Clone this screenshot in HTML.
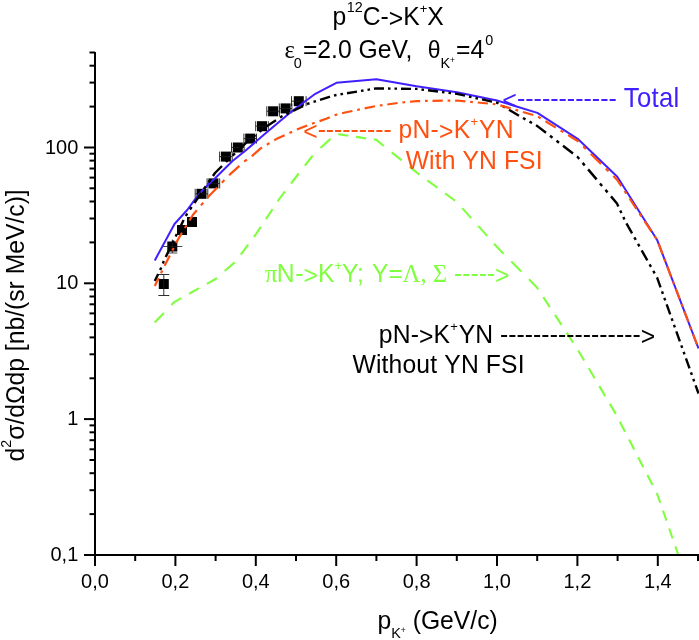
<!DOCTYPE html>
<html><head><meta charset="utf-8"><title>chart</title>
<style>html,body{margin:0;padding:0;background:#fff;}svg{display:block;will-change:transform;}text{font-family:"Liberation Sans",sans-serif;}.se{font-family:"Liberation Serif",serif;}</style>
</head><body>
<svg width="699" height="640" viewBox="0 0 699 640">
<rect width="699" height="640" fill="#fff"/>
<g fill="#000" stroke="#1a1a1a" stroke-width="0.9">
<rect x="158.8" y="279.0" width="10" height="10" stroke="none"/>
<path d="M163.8 274.5V295.5M158.3 274.5H169.3M158.3 295.5H169.3" fill="none"/>
<rect x="167.3" y="241.5" width="10" height="10" stroke="none"/>
<path d="M162.3 246.5H182.3M172.3 239.5V253.0M167.3 253.0H177.3" fill="none" stroke-width="0.8"/>
<rect x="177.0" y="225.0" width="10" height="10" stroke="none"/>
<rect x="187.0" y="217.0" width="10" height="10" stroke="none"/>
<rect x="196.5" y="188.8" width="10" height="10" stroke="none"/>
<path d="M195.2 188.8V198.8M207.8 188.8V198.8M195.2 193.8H207.8" fill="none" stroke-width="0.9"/>
<rect x="208.4" y="178.4" width="10" height="10" stroke="none"/>
<path d="M207.1 178.4V188.4M219.7 178.4V188.4M207.1 183.4H219.7" fill="none" stroke-width="0.9"/>
<rect x="220.9" y="151.6" width="10" height="10" stroke="none"/>
<path d="M219.6 151.6V161.6M232.2 151.6V161.6M219.6 156.6H232.2" fill="none" stroke-width="0.9"/>
<rect x="232.8" y="142.5" width="10" height="10" stroke="none"/>
<path d="M231.5 142.5V152.5M244.1 142.5V152.5M231.5 147.5H244.1" fill="none" stroke-width="0.9"/>
<rect x="245.2" y="133.6" width="10" height="10" stroke="none"/>
<path d="M243.9 133.6V143.6M256.5 133.6V143.6M243.9 138.6H256.5" fill="none" stroke-width="0.9"/>
<rect x="257.0" y="121.2" width="10" height="10" stroke="none"/>
<path d="M255.7 121.2V131.2M268.3 121.2V131.2M255.7 126.2H268.3" fill="none" stroke-width="0.9"/>
<rect x="268.1" y="106.3" width="10" height="10" stroke="none"/>
<path d="M266.8 106.3V116.3M279.4 106.3V116.3M266.8 111.3H279.4" fill="none" stroke-width="0.9"/>
<rect x="280.6" y="103.4" width="10" height="10" stroke="none"/>
<path d="M279.3 103.4V113.4M291.9 103.4V113.4M279.3 108.4H291.9" fill="none" stroke-width="0.9"/>
<rect x="293.8" y="96.2" width="10" height="10" stroke="none"/>
<path d="M291.5 96.2V106.2M306.1 96.2V106.2M291.5 101.2H306.1" fill="none" stroke-width="0.9"/>
</g>
<g fill="none" stroke-width="2" stroke-linejoin="round">
<path d="M154.70 322.40L163.88 312.90M171.41 305.10L174.60 301.80L181.30 298.07M189.10 293.74L199.10 288.18M206.90 283.84L215.60 279.00L216.90 277.87M224.70 271.08L234.70 262.37M240.76 254.70L248.19 244.70M253.99 236.90L255.40 235.00L260.76 226.90M265.93 219.10L272.55 209.10M277.71 201.30L279.50 198.60L285.08 191.30M291.03 183.50L296.00 177.00L298.73 173.50M304.82 165.70L312.20 156.25L312.75 155.70M320.50 147.94L330.20 139.10L330.50 138.91M338.30 134.15L345.00 135.20L348.30 135.70M356.10 136.87L366.10 138.37M373.90 139.54L376.30 139.90L383.90 146.03M391.70 152.32L401.70 160.38M409.50 166.67L416.60 172.40L419.50 174.54M427.30 180.28L437.30 187.64M445.10 193.39L455.10 200.75M462.26 208.10L471.20 218.10M478.18 225.90L487.12 235.90M494.10 243.70L497.50 247.50L503.62 253.70M511.33 261.50L521.20 271.50M528.90 279.30L537.00 287.50L538.18 289.30M543.29 297.10L549.84 307.10M554.96 314.90L561.51 324.90M566.62 332.70L573.17 342.70M578.21 350.50L584.14 360.50M588.76 368.30L594.69 378.30M599.31 386.10L605.24 396.10M609.86 403.90L615.79 413.90M619.86 421.70L625.01 431.70M629.02 439.50L634.17 449.50M638.19 457.30L643.34 467.30M647.36 475.10L652.51 485.10M656.52 492.90L657.40 494.60L660.28 502.90M662.99 510.70L666.46 520.70M669.17 528.50L672.64 538.50M675.35 546.30L678.20 554.50" stroke="#80ff40" stroke-width="2.1"/>
<polyline points="154.8,260.4 174.5,224.0 187.2,210.0 195.0,199.4 203.8,188.8 215.6,177.8 232.5,161.0 245.0,151.0 265.3,133.6 290.3,112.5 296.6,107.8 315.3,93.8 336.4,82.8 376.4,79.3 416.6,86.3 456.9,92.2 497.0,100.5 537.4,112.9 577.7,138.8 617.3,176.8 657.3,240.3 698.5,348.5" stroke="#4020ff"/>
<path d="M154.80 281.00L158.17 274.00M160.09 270.00L161.20 267.70L161.28 267.50M162.86 263.50L163.84 261.00M165.74 257.00L170.57 247.00M172.50 243.00L173.71 240.50M175.64 236.50L176.85 234.00M178.78 230.00L183.00 221.25L183.68 220.00M185.85 216.00L187.20 213.50M189.95 209.50L191.66 207.00M194.41 203.00L201.27 193.00M204.02 189.00L205.73 186.50M208.48 182.50L210.20 180.00M212.94 176.00L215.00 173.00L222.00 166.00M226.00 162.00L228.00 160.00L228.50 159.52M232.50 155.67L235.00 153.27M239.00 149.42L241.00 147.50L249.00 140.21M253.00 136.95L255.50 134.99M259.50 131.85L262.00 129.89M266.00 126.83L276.00 120.19M280.00 117.53L281.70 116.40L282.50 116.02M286.50 114.09L289.00 112.89M293.00 110.97L301.25 107.00L303.00 106.13M307.00 104.15L307.50 103.90L309.50 103.26M313.50 101.98L316.00 101.18M320.00 99.90L329.40 96.90L330.00 96.73M334.00 95.61L336.20 95.00L336.50 94.95M340.50 94.29L343.00 93.88M347.00 93.22L357.00 91.58M361.00 90.92L363.50 90.51M367.50 89.85L370.00 89.44M374.00 88.78L376.30 88.40L384.00 88.50M388.00 88.55L390.50 88.58M394.50 88.63L397.00 88.66M401.00 88.71L411.00 88.83M415.00 88.88L416.60 88.90L417.50 89.01M421.50 89.51L424.00 89.82M428.00 90.31L438.00 91.56M442.00 92.05L444.50 92.36M448.50 92.86L451.00 93.17M455.00 93.66L456.90 93.90L465.00 95.68M469.00 96.56L471.50 97.10M475.50 97.98L478.00 98.53M482.00 99.41L492.00 101.60M496.00 102.48L497.00 102.70L498.50 103.59M502.50 105.95L505.00 107.43M509.00 109.80L519.00 115.71M523.00 117.99L525.50 119.40M529.50 121.65L532.00 123.06M536.00 125.31L537.40 126.10L546.00 132.72M550.00 135.79L552.50 137.72M556.50 140.79L559.00 142.72M563.00 145.79L573.00 153.48M577.00 156.56L577.70 157.10L579.22 158.90M582.61 162.90L584.73 165.40M588.12 169.40L596.59 179.40M599.98 183.40L602.09 185.90M605.48 189.90L607.60 192.40M610.99 196.40L617.00 203.50L618.37 206.40M620.25 210.40L621.43 212.90M623.32 216.90L624.50 219.40M626.44 223.40L632.09 233.40M634.34 237.40L635.76 239.90M638.01 243.90L639.43 246.40M641.68 250.40L647.33 260.40M649.59 264.40L651.00 266.90M653.26 270.90L654.67 273.40M656.93 277.40L657.10 277.70L660.57 287.40M662.00 291.40L662.89 293.90M664.32 297.90L665.22 300.40M666.65 304.40L670.22 314.40M671.65 318.40L672.54 320.90M673.97 324.90L674.87 327.40M676.30 331.40L679.87 341.40M681.30 345.40L682.20 347.90M683.63 351.90L684.52 354.40M685.95 358.40L689.53 368.40M690.96 372.40L691.85 374.90M693.28 378.90L694.17 381.40M695.60 385.40L698.50 393.50" stroke="#000" stroke-width="2.4"/>
</g>
<path d="M154.80 286.00L158.68 278.00M161.01 273.20L162.32 270.50M164.65 265.70L166.10 262.70L169.85 255.40M172.32 250.60L173.71 247.90M176.18 243.10L178.75 238.10L181.98 232.80M184.90 228.00L186.54 225.30M189.47 220.50L193.00 214.70L196.84 210.20M200.94 205.40L203.24 202.70M207.34 197.90L208.75 196.25L215.60 189.20L217.16 187.60M221.83 182.80L224.45 180.10M229.12 175.30L230.00 174.40L239.40 165.94M244.20 161.62L245.00 160.90L246.90 159.56M251.70 156.17L252.50 155.60L260.60 148.40L262.00 147.57M266.80 144.72L269.50 143.11M274.30 140.26L276.25 139.10L284.60 135.24M289.40 133.03L292.10 131.78M296.90 129.58L307.20 125.42M312.00 123.73L314.70 122.78M319.50 121.11L326.25 118.75L329.80 117.31M334.60 115.35L336.20 114.70L337.30 114.42M342.10 113.22L345.00 112.50L352.40 110.96M357.20 109.97L359.90 109.41M364.70 108.41L375.00 106.27M379.80 105.51L382.50 105.14M387.30 104.47L397.60 103.03M402.40 102.47L405.10 102.21M409.90 101.75L416.60 101.10L420.20 101.05M425.00 100.97L427.70 100.93M432.50 100.86L442.80 100.71M447.60 100.64L450.30 100.60M455.10 100.53L456.90 100.50L465.40 101.33M470.20 101.79L472.90 102.06M477.70 102.52L488.00 103.52M492.80 103.99L495.50 104.25M500.30 105.37L510.60 108.41M515.40 109.82L518.10 110.62M522.90 112.03L533.20 115.06M538.00 116.67L540.70 118.32M545.50 121.26L555.80 127.58M560.60 130.52L563.30 132.17M568.10 135.12L577.70 141.00L578.40 141.69M583.20 146.40L585.90 149.05M590.70 153.77L601.00 163.88M605.80 168.60L608.50 171.25M613.30 175.97L617.00 179.60L621.38 186.20M624.57 191.00L626.36 193.70M629.55 198.50L636.39 208.80M639.57 213.60L641.37 216.30M644.55 221.10L651.39 231.40M654.58 236.20L656.37 238.90M658.59 243.70L662.52 254.00M664.34 258.80L665.37 261.50M667.20 266.30L671.12 276.60M672.95 281.40L673.98 284.10M675.81 288.90L679.73 299.20M681.56 304.00L682.58 306.70M684.41 311.50L688.33 321.80M690.16 326.60L691.19 329.30M693.02 334.10L696.94 344.40" fill="none" stroke-width="2.2" stroke-linejoin="round" stroke="#ff5010"/>
<g stroke="#000" stroke-width="2" fill="none" stroke-linecap="butt">
<path d="M95 52V566"/>
<path d="M84 555H699"/>
<path d="M135.2 555V561"/>
<path d="M175.4 555V566"/>
<path d="M215.6 555V561"/>
<path d="M255.8 555V566"/>
<path d="M296.0 555V561"/>
<path d="M336.2 555V566"/>
<path d="M376.4 555V561"/>
<path d="M416.6 555V566"/>
<path d="M456.8 555V561"/>
<path d="M497.0 555V566"/>
<path d="M537.2 555V561"/>
<path d="M577.4 555V566"/>
<path d="M617.6 555V561"/>
<path d="M657.8 555V566"/>
<path d="M698.0 555V561"/>
<path d="M89.5 514.1H95"/>
<path d="M89.5 490.2H95"/>
<path d="M89.5 473.2H95"/>
<path d="M89.5 460.0H95"/>
<path d="M89.5 449.3H95"/>
<path d="M89.5 440.2H95"/>
<path d="M89.5 432.3H95"/>
<path d="M89.5 425.4H95"/>
<path d="M84 419.1H95"/>
<path d="M89.5 378.3H95"/>
<path d="M89.5 354.3H95"/>
<path d="M89.5 337.4H95"/>
<path d="M89.5 324.2H95"/>
<path d="M89.5 313.4H95"/>
<path d="M89.5 304.3H95"/>
<path d="M89.5 296.5H95"/>
<path d="M89.5 289.5H95"/>
<path d="M84 283.3H95"/>
<path d="M89.5 242.4H95"/>
<path d="M89.5 218.5H95"/>
<path d="M89.5 201.5H95"/>
<path d="M89.5 188.3H95"/>
<path d="M89.5 177.6H95"/>
<path d="M89.5 168.5H95"/>
<path d="M89.5 160.6H95"/>
<path d="M89.5 153.7H95"/>
<path d="M84 147.5H95"/>
<path d="M89.5 106.6H95"/>
<path d="M89.5 82.6H95"/>
<path d="M89.5 65.7H95"/>
<path d="M89.5 52.5H95"/>
</g>
<g font-size="20" fill="#000">
<text transform="translate(95.0,588) scale(1,1.04)" text-anchor="middle">0,0</text>
<text transform="translate(175.4,588) scale(1,1.04)" text-anchor="middle">0,2</text>
<text transform="translate(255.8,588) scale(1,1.04)" text-anchor="middle">0,4</text>
<text transform="translate(336.2,588) scale(1,1.04)" text-anchor="middle">0,6</text>
<text transform="translate(416.6,588) scale(1,1.04)" text-anchor="middle">0,8</text>
<text transform="translate(497.0,588) scale(1,1.04)" text-anchor="middle">1,0</text>
<text transform="translate(577.4,588) scale(1,1.04)" text-anchor="middle">1,2</text>
<text transform="translate(657.8,588) scale(1,1.04)" text-anchor="middle">1,4</text>
<text transform="translate(78.3,561.0) scale(1,1.04)" text-anchor="end">0,1</text>
<text transform="translate(78.3,425.1) scale(1,1.04)" text-anchor="end">1</text>
<text transform="translate(78.3,289.3) scale(1,1.04)" text-anchor="end">10</text>
<text transform="translate(78.3,153.5) scale(1,1.04)" text-anchor="end">100</text>
</g>
<g transform="translate(332.5,24.8) scale(1,1.04)"><text x="0" y="0" fill="#000" font-size="24.7" ><tspan >p</tspan><tspan font-size="14.4" dy="-12.50" dx="0.5">12</tspan><tspan dy="12.50">C-</tspan><tspan dy="2.31">&gt;</tspan><tspan dy="-2.31">K</tspan><tspan font-size="13" dy="-11.54">+</tspan><tspan dy="11.54">X</tspan></text></g>
<g transform="translate(284.5,57.5) scale(1,1.04)"><text x="0" y="0" fill="#000" font-size="24.7" ><tspan class="se">ε</tspan><tspan font-size="14.4" dy="9.90" dx="-1">0</tspan><tspan dy="-9.90" dx="1">=2.0&#160;GeV,&#160;&#160;</tspan><tspan font-size="23" dx="1.5">θ</tspan><tspan font-size="14.4" dy="9.90">K</tspan><tspan font-size="8.5" dy="-5.10">+</tspan><tspan dy="-4.81" dx="1">=4</tspan><tspan font-size="14.4" dy="-11.54" dx="1">0</tspan></text></g>
<g transform="translate(377.5,629.4) scale(1,1.04)"><text x="0" y="0" fill="#000" font-size="24.7" ><tspan >p</tspan><tspan font-size="14.4" dy="8.65">K</tspan><tspan font-size="8.5" dy="-4.81">+</tspan><tspan dy="-3.85">&#160;(GeV/c)</tspan></text></g>
<g transform="translate(23.8,461.5) rotate(-90)"><g transform="translate(0,0) scale(1,1.04)"><text x="0" y="0" fill="#000" font-size="24.7" ><tspan >d</tspan><tspan font-size="14.4" dy="-12.50">2</tspan><tspan dy="12.50">σ/dΩdp&#160;[nb/(sr&#160;MeV/c)]</tspan></text></g></g>
<g transform="translate(502.3,106.5) scale(1,1.04)"><text x="0" y="0" fill="#4020ff" font-size="25" ><tspan dy="2.31">&lt;</tspan><tspan dy="-2.31">------------&#160;</tspan><tspan font-size="25.7" letter-spacing="0.3">Total</tspan></text></g>
<g transform="translate(303.2,137.7) scale(1,1.04)"><text x="0" y="0" fill="#ff5010" font-size="24.7" ><tspan dy="2.31">&lt;</tspan><tspan dy="-2.31">---------&#160;</tspan><tspan letter-spacing="0.25">pN-</tspan><tspan dy="2.31" letter-spacing="0.25">&gt;</tspan><tspan dy="-2.31" letter-spacing="0.25">K</tspan><tspan font-size="13" dy="-11.54">+</tspan><tspan dy="11.54" dx="1" letter-spacing="0.25">YN</tspan></text></g>
<g transform="translate(405.7,169.0) scale(1,1.04)"><text x="0" y="0" fill="#ff5010" font-size="24.7" ><tspan letter-spacing="0.1">With&#160;YN&#160;FSI</tspan></text></g>
<g transform="translate(265,281.6) scale(1,1.04)"><text x="0" y="0" fill="#80ff40" font-size="24.7" ><tspan class="se">π</tspan><tspan dx="-0.8">N</tspan><tspan dx="0.8">-</tspan><tspan dy="2.31">&gt;</tspan><tspan dy="-2.31">K</tspan><tspan font-size="13" dy="-11.54">+</tspan><tspan dy="11.54">Y;</tspan><tspan dx="1.3">&#160;Y=</tspan><tspan class="se" dx="-0.3">Λ,&#160;Σ</tspan><tspan >&#160;-----</tspan><tspan dy="2.31">&gt;</tspan></text></g>
<g transform="translate(378.8,342.8) scale(1,1.04)"><text x="0" y="0" fill="#000" font-size="24.7" ><tspan letter-spacing="0.15">pN-</tspan><tspan dy="2.31" letter-spacing="0.15">&gt;</tspan><tspan dy="-2.31" letter-spacing="0.15">K</tspan><tspan font-size="13" dy="-11.54">+</tspan><tspan dy="11.54" dx="0.8" letter-spacing="0.06">YN&#160;-----------------</tspan><tspan dy="2.31">&gt;</tspan></text></g>
<g transform="translate(352.5,373) scale(1,1.04)"><text x="0" y="0" fill="#000" font-size="24.7" ><tspan letter-spacing="0.15">Without&#160;YN&#160;FSI</tspan></text></g>
</svg></body></html>
